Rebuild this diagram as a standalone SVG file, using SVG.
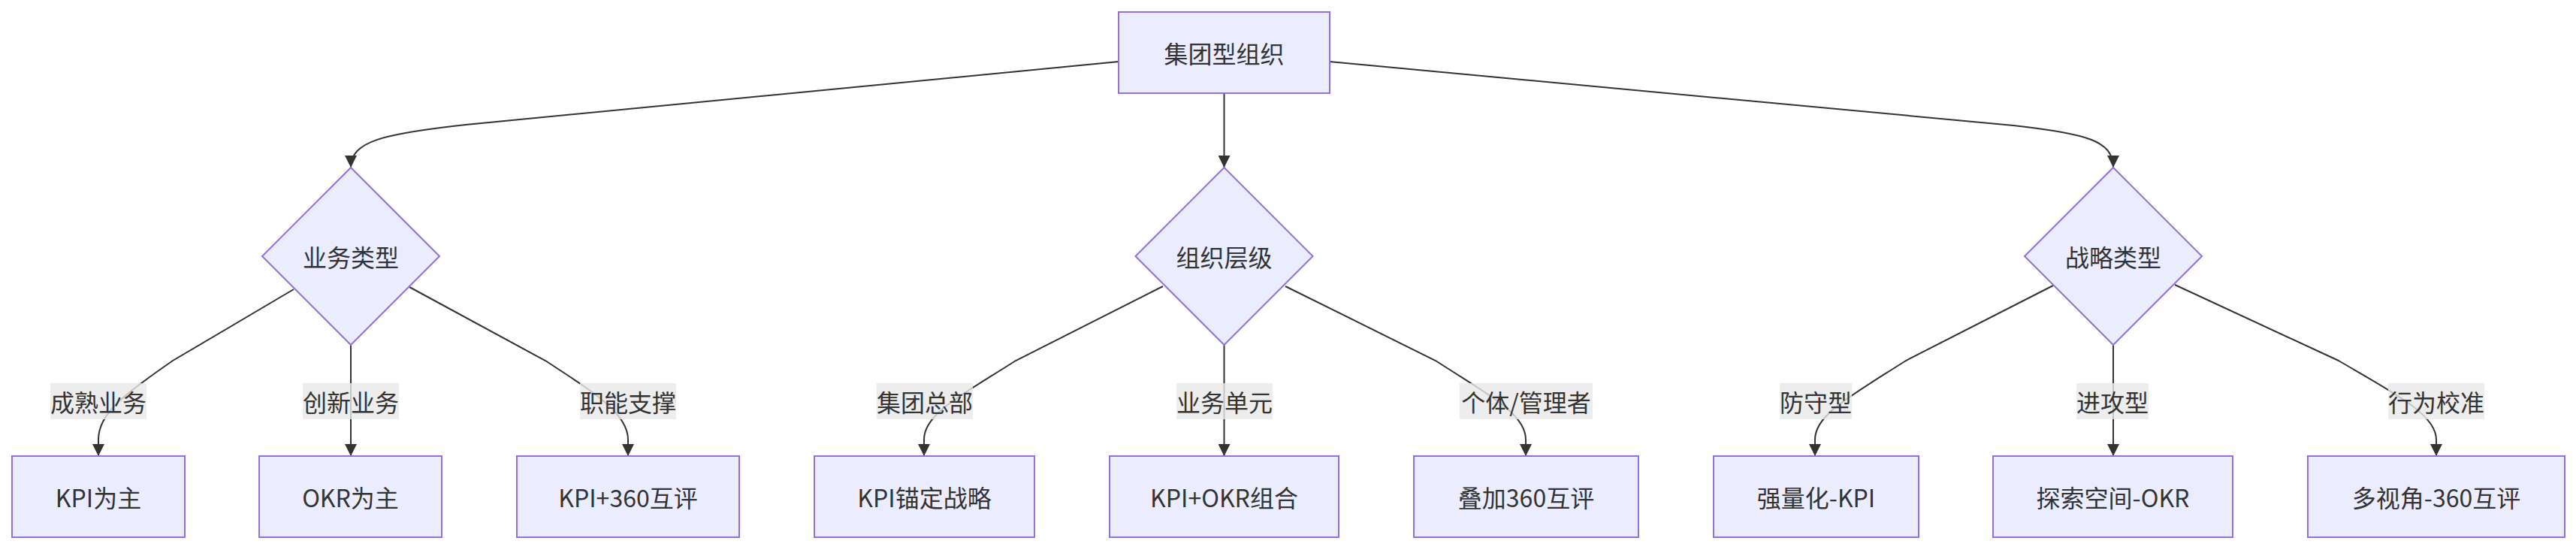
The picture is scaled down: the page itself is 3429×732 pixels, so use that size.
<svg xmlns="http://www.w3.org/2000/svg" width="3429" height="732" viewBox="0 0 3429 732">
<style>
.node rect, .node polygon { fill: #ECECFF; stroke: #9370DB; stroke-width: 2; }
.node text, .label text { font-family: "Noto Sans CJK SC", "Liberation Sans", sans-serif; font-size: 32px; fill: #333333; text-anchor: middle; dominant-baseline: central; }
.edge { fill: none; stroke: #333333; stroke-width: 2; }
.label rect { fill: rgba(232,232,232,0.8); stroke: none; }
</style>
<defs>
<marker id="arrow" viewBox="0 0 10 10" refX="10" refY="5" markerUnits="userSpaceOnUse" markerWidth="16" markerHeight="16" orient="auto">
<path d="M0,0 L10,5 L0,10 z" fill="#333333"/>
</marker>
</defs>
<rect width="3429" height="732" fill="#ffffff"/>
<g id="connectors">
<path class="edge" marker-end="url(#arrow)" d="M1489,82 L620,166 C510,178 467,188 467,223"/>
<path class="edge" marker-end="url(#arrow)" d="M1629.5,124 L1629.5,223"/>
<path class="edge" marker-end="url(#arrow)" d="M1770,82 L2680,167 C2780,178 2813,188 2813,223"/>
<path class="edge" marker-end="url(#arrow)" d="M391,385 L230,480 C165,525 131,550 131,585 L131,607"/>
<path class="edge" marker-end="url(#arrow)" d="M467,459 L467,607"/>
<path class="edge" marker-end="url(#arrow)" d="M545,382 L726,480 C790,522 836,550 836,585 L836,607"/>
<path class="edge" marker-end="url(#arrow)" d="M1548,381 L1352,480 C1282,525 1230,550 1230,585 L1230,607"/>
<path class="edge" marker-end="url(#arrow)" d="M1629.5,459 L1629.5,607"/>
<path class="edge" marker-end="url(#arrow)" d="M1711,381 L1911,480 C1980,525 2031,550 2031,585 L2031,607"/>
<path class="edge" marker-end="url(#arrow)" d="M2733,380 L2537,480 C2462,528 2416,552 2416,585 L2416,607"/>
<path class="edge" marker-end="url(#arrow)" d="M2813,459 L2813,607"/>
<path class="edge" marker-end="url(#arrow)" d="M2895,379 L3113,480 C3190,525 3243,552 3243,585 L3243,607"/>
</g>
<g id="edge-labels">
<g class="label"><rect x="67" y="510" width="128" height="48"/><text x="131" y="534">成熟业务</text></g>
<g class="label"><rect x="403" y="510" width="128" height="48"/><text x="467" y="534">创新业务</text></g>
<g class="label"><rect x="772" y="510" width="128" height="48"/><text x="836" y="534">职能支撑</text></g>
<g class="label"><rect x="1167" y="510" width="128" height="48"/><text x="1231" y="534">集团总部</text></g>
<g class="label"><rect x="1566" y="510" width="128" height="48"/><text x="1630" y="534">业务单元</text></g>
<g class="label"><rect x="1943" y="510" width="177" height="48"/><text x="2031.5" y="534">个体/管理者</text></g>
<g class="label"><rect x="2369" y="510" width="96" height="48"/><text x="2417" y="534">防守型</text></g>
<g class="label"><rect x="2764" y="510" width="96" height="48"/><text x="2812" y="534">进攻型</text></g>
<g class="label"><rect x="3179" y="510" width="128" height="48"/><text x="3243" y="534">行为校准</text></g>
</g>
<g id="root" class="node"><rect x="1489" y="16" width="281" height="108"/><text x="1629.5" y="70">集团型组织</text></g>
<g id="bizType" class="node"><polygon points="467,223 585,341 467,459 349,341"/><text x="467" y="341">业务类型</text></g>
<g id="orgLevel" class="node"><polygon points="1629.5,223 1747.5,341 1629.5,459 1511.5,341"/><text x="1629.5" y="341">组织层级</text></g>
<g id="stratType" class="node"><polygon points="2813,223 2931,341 2813,459 2695,341"/><text x="2813" y="341">战略类型</text></g>
<g id="kpiMain" class="node"><rect x="16" y="607" width="230" height="108"/><text x="131" y="661">KPI为主</text></g>
<g id="okrMain" class="node"><rect x="345" y="607" width="243" height="108"/><text x="466.5" y="661">OKR为主</text></g>
<g id="kpi360" class="node"><rect x="688" y="607" width="296" height="108"/><text x="836" y="661">KPI+360互评</text></g>
<g id="kpiAnchor" class="node"><rect x="1084" y="607" width="293" height="108"/><text x="1230.5" y="661">KPI锚定战略</text></g>
<g id="kpiOkr" class="node"><rect x="1477" y="607" width="305" height="108"/><text x="1629.5" y="661">KPI+OKR组合</text></g>
<g id="add360" class="node"><rect x="1882" y="607" width="299" height="108"/><text x="2031.5" y="661">叠加360互评</text></g>
<g id="quantKpi" class="node"><rect x="2281" y="607" width="273" height="108"/><text x="2417.5" y="661">强量化-KPI</text></g>
<g id="exploreOkr" class="node"><rect x="2653" y="607" width="319" height="108"/><text x="2812.5" y="661">探索空间-OKR</text></g>
<g id="multi360" class="node"><rect x="3072" y="607" width="342" height="108"/><text x="3243" y="661">多视角-360互评</text></g>
</svg>
